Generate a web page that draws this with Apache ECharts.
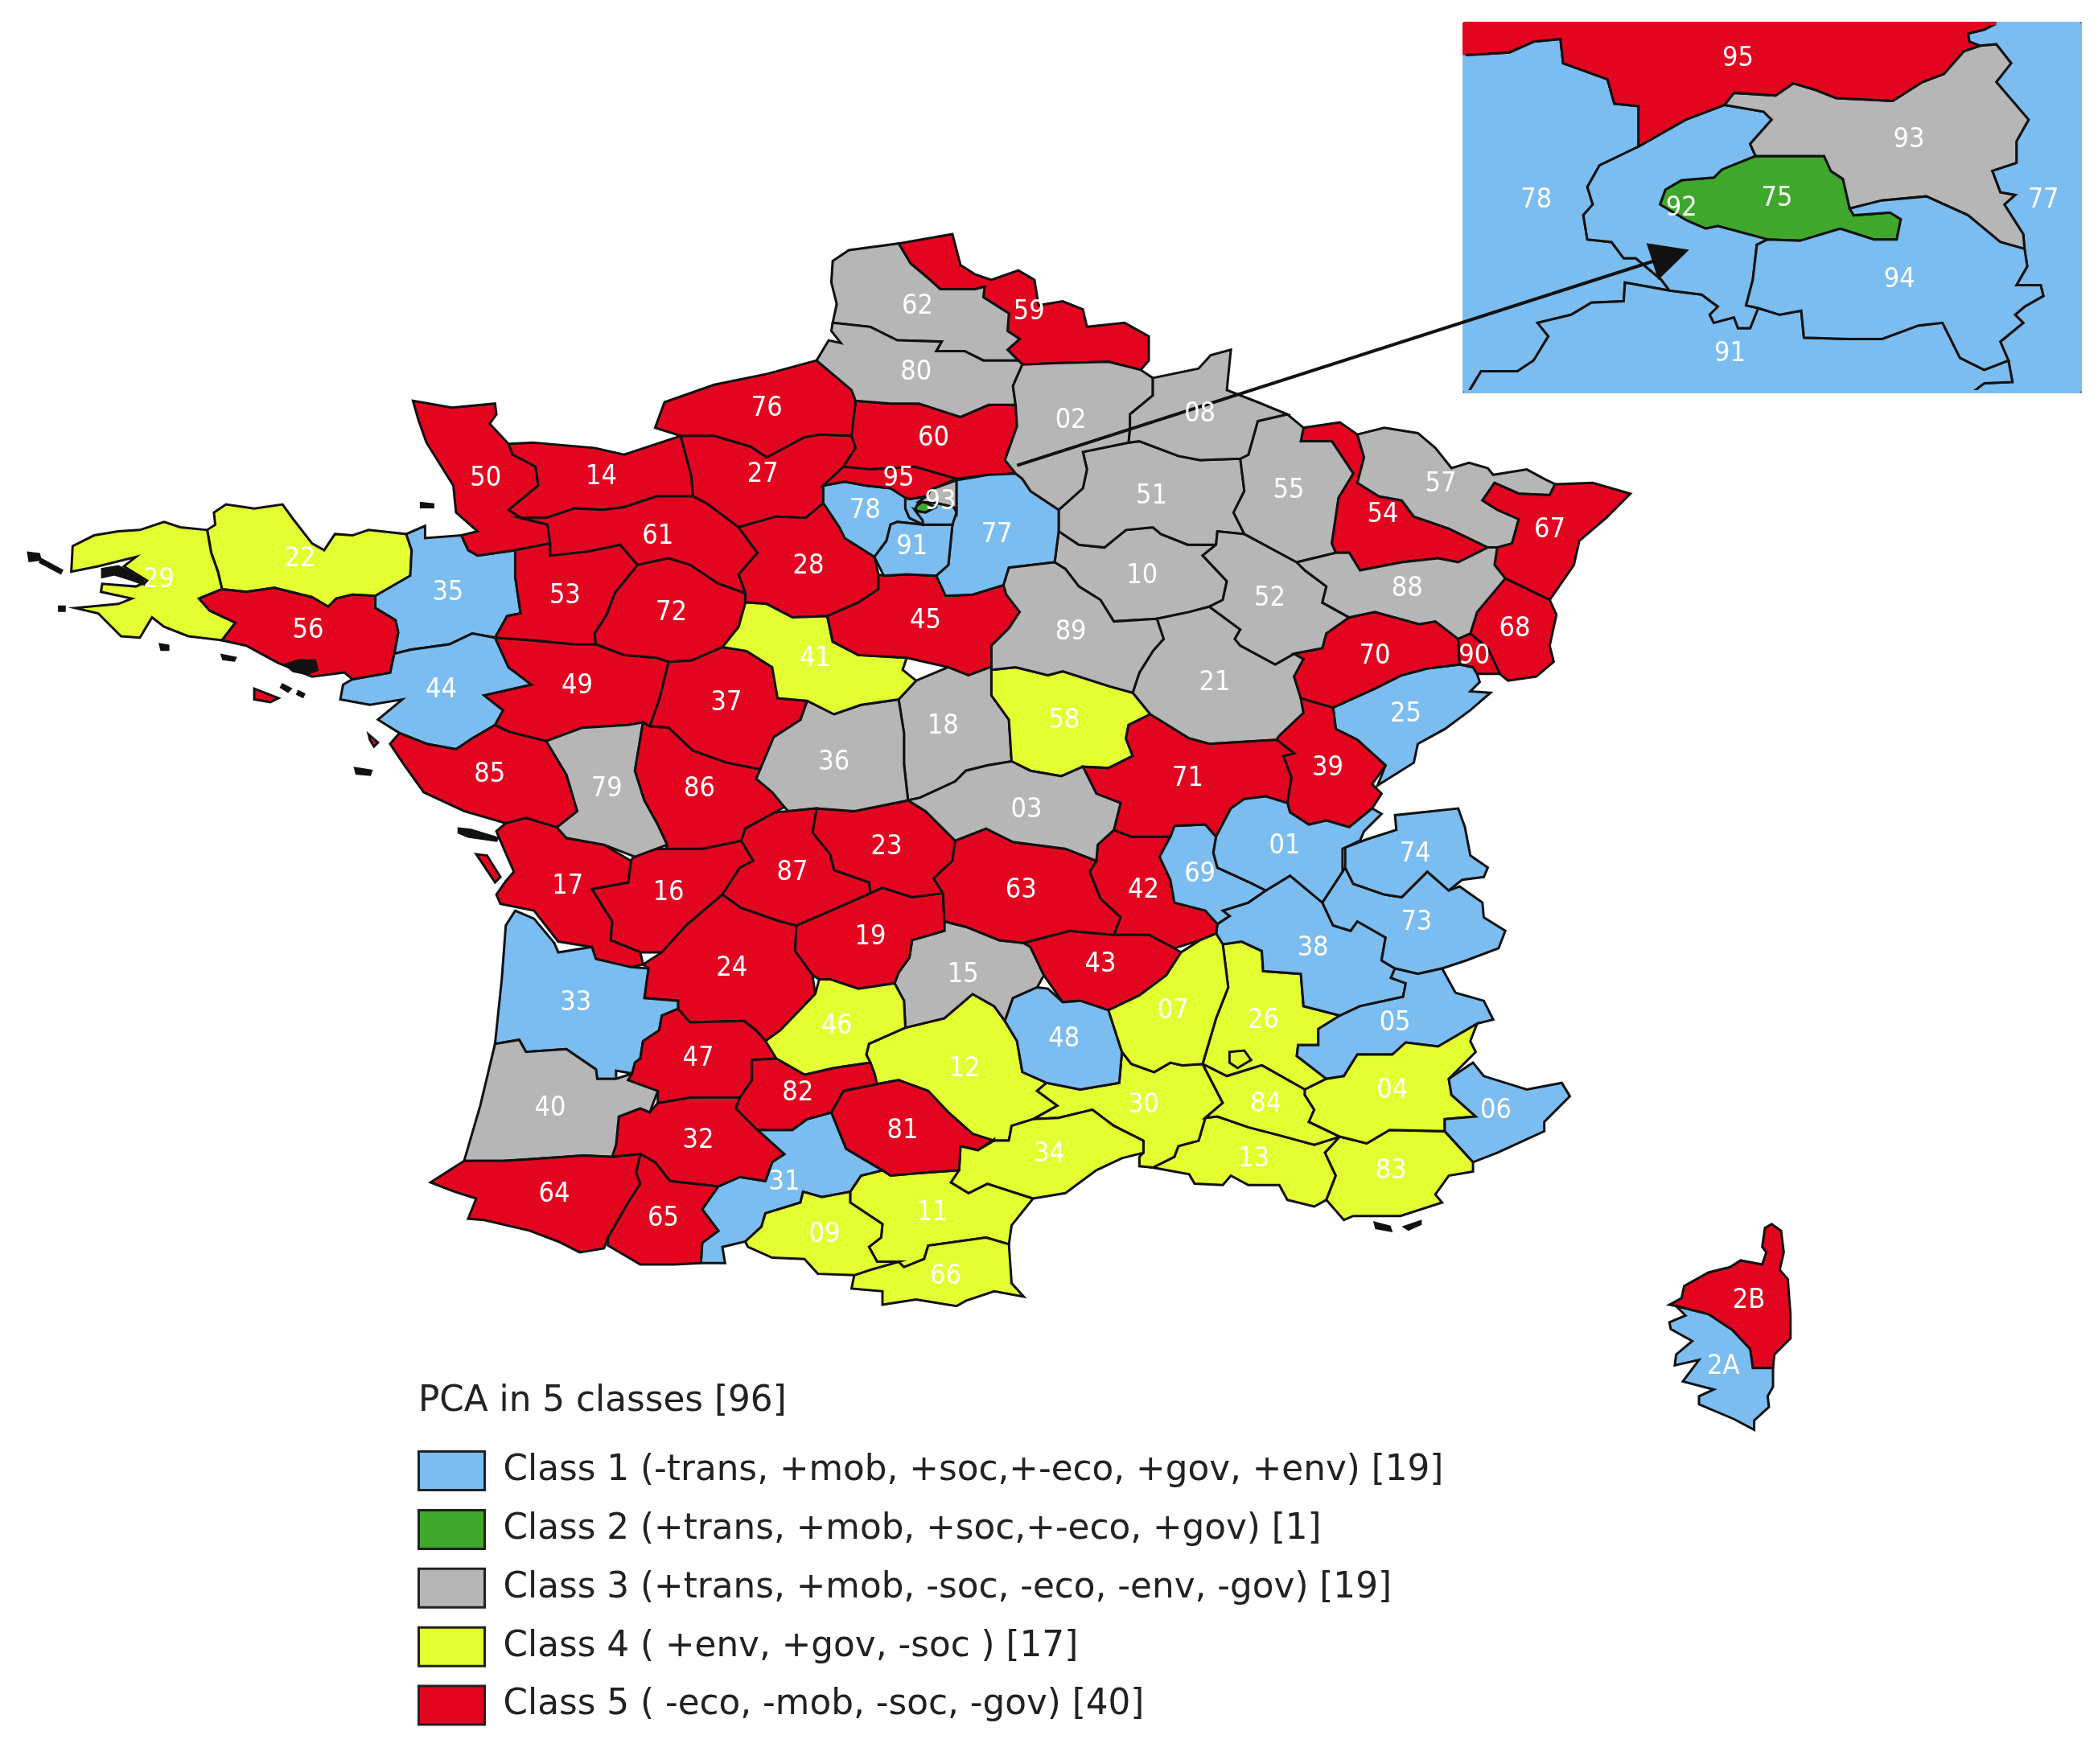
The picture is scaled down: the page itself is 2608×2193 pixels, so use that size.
<!DOCTYPE html>
<html>
<head>
<meta charset="utf-8">
<title>PCA in 5 classes</title>
<script src="https://cdn.jsdelivr.net/npm/echarts@6/dist/echarts.min.js"></script>
<style>
    html, body { margin: 0; padding: 0; background: #fff; }
    #chart { width: 2608px; height: 2193px; }
</style>
</head>
<body>
<div id="chart"></div>
<script>
// legend
const legendTitle = 'PCA in 5 classes [96]';
const classNames = [
    'Class 1 (-trans, +mob, +soc,+-eco, +gov, +env) [19]',
    'Class 2 (+trans, +mob, +soc,+-eco, +gov) [1]',
    'Class 3 (+trans, +mob, -soc, -eco, -env, -gov) [19]',
    'Class 4 ( +env, +gov, -soc ) [17]',
    'Class 5 ( -eco, -mob, -soc, -gov) [40]'
];
const classColors = ['#7bbdf0', '#3fa82c', '#b6b6b6', '#e3ff32', '#e30520'];

// departments per class
const class1Depts = ['78', '91', '77', '35', '44', '33', '25', '01', '69', '74', '73', '38', '05', '06', '48', '31', '2A', '92', '94'];
const class2Depts = ['75'];
const class3Depts = ['62', '80', '02', '08', '51', '55', '57', '88', '10', '52', '89', '21', '18', '36', '03', '79', '40', '15', '93'];
const class4Depts = ['29', '22', '41', '58', '46', '12', '07', '26', '04', '84', '30', '34', '13', '83', '11', '09', '66'];
const class5Depts = ['95', '60', '76', '27', '14', '50', '61', '28', '72', '53', '56', '49', '37', '85', '86', '17', '16', '87', '23', '19',
    '24', '47', '82', '32', '64', '65', '81', '63', '42', '43', '71', '39', '70', '90', '68', '67', '54', '59', '45', '2B'];
const classDepts = [class1Depts, class2Depts, class3Depts, class4Depts, class5Depts];

// departments repeated in the Paris inset
const insetDepts = ['95', '93', '78', '75', '92', '77', '94', '91'];

// hand traced outlines, x,y in map units with y going down
const mapWidth = 1559.6;
const mapHeight = 1311.4;
const deptOutlines = {
    '29': ['154,394 134,392 122,388 104,394 88,395 70,398 54,406 53,425 73,421 101,414 92,421 110,432 101,436 76,434 75,440 98,445 88,449 56,452 73,456 90,473 104,474 113,459 122,466 140,473 165,476 175,463 156,454 148,445 165,438 162,425 157,411'],
    '22': ['154,394 157,411 162,425 165,438 183,440 204,437 232,444 244,451 250,445 262,442 279,443 305,428 306,409 302,397 274,394 262,398 249,397 241,409 232,404 218,386 210,375 189,378 168,375 159,381 160,390'],
    '56': ['165,438 183,440 204,437 232,444 244,451 250,445 262,442 279,443 279,452 294,461 296,470 293,486 290,500 262,505 256,500 232,503 207,493 183,480 165,476 175,463 156,454 148,445',
        '189,512 207,519 201,522 189,520'],
    '35': ['316,391 316,400 343,398 348,409 355,413 383,409 383,429 387,456 377,458 368,474 351,471 334,479 305,483 293,486 296,470 294,461 279,452 279,443 305,428 306,409 302,397'],
    '44': ['293,486 305,483 334,479 351,471 368,474 378,496 395,509 360,517 374,528 368,539 351,549 339,557 317,553 297,545 281,535 299,520 275,524 253,520 255,509 262,505 290,500'],
    '50': ['307,298 336,303 368,300 369,308 364,315 378,330 381,338 398,347 400,361 378,379 387,385 407,390 409,404 383,409 355,413 348,409 343,398 355,395 339,381 337,361 317,329 311,312'],
    '14': ['378,330 396,329 442,333 464,338 488,330 506,324 514,354 515,369 488,369 464,377 448,379 427,378 406,385 387,385 378,379 400,361 398,347 381,338'],
    '61': ['407,390 387,385 406,385 427,378 448,379 464,377 488,369 515,369 525,374 549,392 563,411 549,427 554,441 534,434 513,420 497,415 474,420 461,405 437,410 409,413 409,404'],
    '53': ['383,409 409,404 409,413 437,410 461,405 474,420 457,441 451,457 442,471 443,479 427,479 396,476 368,474 377,458 387,456 383,429'],
    '72': ['474,420 497,415 513,420 534,434 554,441 554,448 549,466 537,481 514,491 497,492 488,489 464,487 443,479 442,471 451,457 457,441'],
    '76': ['487,318 494,299 531,286 570,278 607,268 633,290 636,298 633,324 610,323 598,325 570,340 558,332 531,324 506,324'],
    '27': ['506,324 531,324 558,332 570,340 598,325 610,323 633,324 636,333 627,347 612,361 612,374 599,385 577,384 549,392 525,374 515,369 514,354'],
    '28': ['549,392 577,384 599,385 612,374 624,392 628,400 650,414 653,427 653,438 638,448 615,458 589,459 570,449 554,448 554,441 549,427 563,411'],
    '78': ['612,361 628,358 644,361 662,363 673,370 673,378 676,385 686,390 667,388 662,390 659,402 650,414 628,400 624,392 612,374'],
    '95': ['627,347 647,349 680,347 711,356 692,364 689,369 676,371 673,370 662,363 644,361 628,358 612,361'],
    '92': ['676,371 689,369 683,373 680,379 686,387 686,390 676,385 673,378 673,370'],
    '93': ['689,369 692,364 711,357 711,381 709,377 696,374 683,373'],
    '75': ['680,377 686,373 696,377 688,381 682,380'],
    '94': ['688,381 696,377 696,374 709,377 711,381 708,390 686,390 686,387 680,379 682,380'],
    '91': ['667,388 686,390 708,390 705,420 696,428 674,427 657,428 650,414 659,402 662,390'],
    '60': ['636,298 662,300 683,300 714,310 735,301 755,301 756,317 747,342 755,352 735,353 711,356 680,347 647,349 627,347 636,333 633,324'],
    '77': ['711,357 735,353 755,352 760,356 766,365 787,379 787,395 784,418 750,422 746,435 723,442 703,443 696,428 705,420 708,390 711,381'],
    '62': ['619,194 631,186 668,181 677,196 689,206 699,215 725,215 732,213 731,221 750,233 749,246 758,252 749,260 757,268 731,268 717,261 696,261 700,254 667,253 647,243 619,240 622,226 618,210'],
    '59': ['668,181 708,174 714,197 725,204 737,208 757,201 769,208 772,227 790,224 805,230 808,243 836,240 854,250 854,268 848,275 824,269 784,270 760,271 757,268 749,260 758,252 749,246 750,233 731,221 732,213 725,215 699,215 689,206 677,196'],
    '80': ['619,240 647,243 667,253 700,254 696,261 717,261 731,268 757,268 760,271 753,287 755,301 735,301 714,310 683,300 662,300 636,298 633,290 607,268 616,253 625,255 618,246'],
    '02': ['760,271 784,270 824,269 848,275 857,281 857,294 840,308 840,319 839,329 805,336 808,349 805,363 787,379 766,365 760,356 755,352 747,342 756,317 755,301 753,287'],
    '08': ['857,281 891,274 900,264 915,260 912,290 935,299 957,308 935,313 928,338 922,341 892,342 876,339 847,328 839,329 840,319 840,308 857,294'],
    '51': ['805,336 839,329 847,328 876,339 892,342 922,341 925,365 917,381 925,397 905,395 904,405 883,405 863,397 857,392 837,394 821,407 802,405 787,395 787,379 805,363 808,349'],
    '55': ['935,313 957,308 969,318 967,328 990,328 1006,352 995,370 990,404 993,411 964,418 925,397 917,381 925,365 922,341 928,338'],
    '54': ['969,318 996,314 1009,323 1014,340 1009,359 1025,369 1042,372 1051,384 1077,393 1106,407 1084,418 1069,415 1042,418 1011,424 1003,411 993,411 990,404 995,370 1006,352 990,328 967,328'],
    '57': ['1009,323 1029,318 1054,322 1067,333 1079,348 1092,344 1106,348 1110,353 1135,349 1148,356 1156,360 1152,368 1129,367 1111,359 1102,372 1113,379 1129,386 1124,404 1113,407 1106,407 1077,393 1051,384 1042,372 1025,369 1009,359 1014,340'],
    '67': ['1111,359 1129,367 1152,368 1156,360 1184,359 1212,367 1194,385 1174,402 1170,420 1152,446 1119,430 1111,420 1113,407 1124,404 1129,386 1113,379 1102,372'],
    '68': ['1119,430 1152,446 1157,457 1152,480 1155,492 1142,503 1121,506 1115,501 1106,482 1093,471 1098,455 1114,436'],
    '90': ['1084,475 1093,471 1106,482 1115,501 1098,501 1095,496 1085,494'],
    '88': ['964,418 993,411 1003,411 1011,424 1042,418 1069,415 1084,418 1106,407 1113,407 1111,420 1119,430 1114,436 1098,455 1093,471 1084,475 1067,462 1055,464 1022,455 1003,459 983,448 986,436 970,424'],
    '70': ['1003,459 1022,455 1055,464 1067,462 1084,475 1085,494 1061,497 1042,502 1022,512 991,526 977,522 967,519 962,503 969,490 962,486 983,482 986,471'],
    '52': ['925,397 964,418 970,424 986,436 983,448 1003,459 986,471 983,482 962,486 948,494 922,480 918,475 922,468 899,451 909,446 912,432 894,413 904,405 905,395'],
    '10': ['787,395 802,405 821,407 837,394 857,392 863,397 883,405 904,405 894,413 912,432 909,446 899,451 884,455 860,460 828,462 818,446 802,436 792,423 784,418'],
    '89': ['750,422 784,418 792,423 802,436 818,446 828,462 860,460 865,475 857,484 847,500 842,515 824,510 790,499 779,502 755,496 737,498 737,480 750,467 758,455 748,442 746,435'],
    '45': ['615,458 638,448 653,438 653,427 657,428 674,427 696,428 703,443 723,442 746,435 748,442 758,455 750,467 737,480 741,494 720,502 705,496 674,489 638,487 619,477'],
    '41': ['557,448 570,449 589,459 615,458 619,477 638,487 674,489 671,498 681,506 668,520 640,524 620,531 600,521 578,519 574,496 555,484 537,481 549,466 554,448'],
    '37': ['497,492 514,491 537,481 555,484 574,496 578,519 600,521 595,535 575,548 565,572 540,567 515,558 497,541 483,540 490,520'],
    '49': ['368,474 396,476 427,479 443,479 464,487 488,489 497,492 490,520 483,540 478,537 467,539 433,541 406,551 378,544 368,539 374,528 360,517 395,509 378,496'],
    '79': ['406,551 433,541 467,539 478,537 472,573 479,595 489,613 496,628 472,637 449,628 421,623 414,615 429,603 421,576'],
    '85': ['290,553 297,545 317,553 339,557 351,549 368,539 378,544 406,551 421,576 429,603 414,615 391,608 376,612 345,603 315,589 300,568',
        '274,546 281,552 278,555 275,550'],
    '17': ['376,612 391,608 414,615 421,623 449,628 469,640 467,656 440,661 455,685 454,699 476,708 478,717 469,719 443,713 440,704 415,700 397,677 372,672 369,665 376,655 382,648 375,632 369,618',
        '354,635 362,636 372,652 368,656'],
    '33': ['383,677 397,683 412,701 415,708 440,704 443,713 469,719 482,720 479,742 504,744 504,750 492,755 490,766 478,774 476,787 472,790 470,798 458,796 458,802 444,802 443,795 421,780 391,782 386,773 368,776 373,728 376,688'],
    '40': ['368,776 386,773 391,782 421,780 443,795 444,802 458,802 470,798 467,803 489,811 483,827 476,824 460,830 458,851 455,860 434,859 391,862 374,863 345,863 357,822'],
    '47': ['492,755 504,750 513,760 553,759 562,766 569,774 577,787 559,788 559,803 550,816 547,816 513,816 489,820 489,811 467,803 470,798 472,790 476,787 478,774 490,766'],
    '24': ['537,665 551,675 580,685 592,688 591,707 604,725 606,739 580,766 569,774 562,766 553,759 513,760 504,750 504,744 479,742 482,720 478,717 492,708 510,688'],
    '16': ['469,640 474,632 495,631 522,631 551,625 560,640 550,645 537,665 510,688 492,708 476,708 454,699 455,685 440,661 467,656'],
    '86': ['478,537 483,540 497,541 515,558 540,567 565,572 562,579 574,589 583,600 576,604 554,616 551,625 522,631 495,631 496,628 489,613 479,595 472,573'],
    '36': ['565,572 575,548 595,535 600,521 620,531 640,524 668,520 672,545 672,568 675,595 635,603 607,601 586,603 583,600 574,589 562,579'],
    '18': ['668,520 681,506 705,496 720,502 741,494 737,498 737,517 750,535 752,566 734,569 718,573 710,581 684,593 675,595 672,568 672,545'],
    '58': ['737,498 755,496 779,502 790,499 824,510 842,515 855,531 839,539 837,549 842,562 824,571 805,570 789,577 766,573 752,566 750,535 737,517'],
    '21': ['860,460 884,455 899,451 922,468 918,475 922,480 948,494 962,486 969,490 962,503 967,519 969,530 951,547 949,550 899,553 884,549 855,531 842,515 847,500 857,484 865,475'],
    '71': ['855,531 884,549 899,553 949,550 962,560 954,562 960,578 957,597 941,592 925,594 915,601 904,622 896,613 873,614 870,622 841,622 828,617 833,597 815,590 805,570 824,571 842,562 837,549 839,539'],
    '39': ['977,522 991,526 993,542 1009,550 1030,569 1020,583 1027,590 1020,601 1003,615 986,610 973,613 959,604 957,597 960,578 954,562 962,560 949,550 951,547 969,530 967,519'],
    '25': ['991,526 1022,512 1042,502 1061,497 1085,494 1095,496 1098,501 1100,507 1093,514 1108,515 1093,528 1074,542 1054,553 1051,567 1024,584 1030,569 1009,550 993,542'],
    '01': ['915,601 925,594 941,592 957,597 959,604 973,613 986,610 1003,615 1020,601 1027,605 1014,618 1011,625 998,631 998,648 983,671 959,651 941,662 931,657 905,645 902,634 904,622'],
    '69': ['873,614 896,613 904,622 902,634 905,645 931,657 941,662 928,671 909,677 914,681 905,687 896,677 873,671 870,654 862,637 870,622'],
    '74': ['1000,630 1016,624 1038,617 1037,606 1084,601 1089,615 1093,636 1106,645 1103,652 1087,654 1077,662 1061,648 1042,667 1029,665 1006,657 1000,645'],
    '73': ['1000,645 1006,657 1029,665 1042,667 1061,648 1077,662 1085,659 1102,671 1103,682 1119,692 1114,705 1090,714 1072,720 1054,724 1037,720 1027,714 1030,697 1009,685 1004,692 991,688 983,671 998,648'],
    '38': ['941,662 959,651 983,671 991,688 1004,692 1009,685 1030,697 1027,714 1037,720 1034,727 1045,731 1043,741 1011,748 996,755 969,748 967,724 939,722 938,707 923,700 909,702 904,694 905,687 914,681 909,677 928,671'],
    '42': ['828,617 841,622 870,622 862,637 870,654 873,671 896,677 905,687 904,694 892,699 873,705 854,695 828,695 833,682 818,668 810,648 815,640 816,628'],
    '43': ['761,701 795,692 828,695 854,695 873,705 878,708 867,725 847,740 824,751 803,744 790,745 776,725 766,704'],
    '63': ['733,616 753,626 792,631 815,640 810,648 818,668 833,682 828,695 795,692 761,701 743,699 718,689 702,685 701,664 694,653 708,640 710,625'],
    '03': ['675,595 684,593 710,581 718,573 734,569 752,566 766,573 789,577 805,570 815,590 833,597 828,617 816,628 815,640 792,631 753,626 733,616 710,625 688,603'],
    '23': ['604,619 607,601 635,603 675,595 688,603 710,625 708,640 694,653 701,664 678,667 656,660 647,664 646,656 620,647 617,635'],
    '87': ['586,603 607,601 604,619 617,635 620,647 646,656 647,664 620,676 592,688 580,685 551,675 537,665 550,645 560,640 551,625 554,616 576,604'],
    '19': ['647,664 656,660 678,667 701,664 702,685 702,692 678,699 676,712 668,723 665,731 638,735 617,728 609,728 604,725 591,707 592,688 620,676'],
    '15': ['702,692 702,685 718,689 743,699 761,701 766,704 776,725 771,734 753,742 747,759 739,748 723,739 702,757 673,764 672,744 665,731 668,723 676,712 678,699'],
    '46': ['606,739 609,728 617,728 638,735 665,731 672,744 673,764 646,776 644,784 647,790 620,794 598,799 577,787 569,774 580,766'],
    '12': ['646,776 673,764 702,757 723,739 739,748 747,759 756,774 760,797 778,805 771,811 786,822 768,832 752,837 750,848 739,848 723,843 705,827 690,811 668,803 652,806 650,798 647,790 644,784'],
    '81': ['652,806 668,803 690,811 705,827 723,843 739,848 739,847 727,855 714,852 713,870 684,872 662,874 656,870 629,854 618,827 627,811'],
    '82': ['559,788 577,787 598,799 620,794 647,790 650,798 652,806 627,811 618,827 600,832 589,840 563,840 547,824 550,816 559,803'],
    '32': ['489,820 513,816 547,816 550,816 547,824 563,840 583,858 574,864 569,878 550,875 534,882 498,878 487,864 476,858 455,860 458,851 460,830 476,824 483,827'],
    '64': ['320,879 345,863 374,863 391,862 434,859 455,860 476,858 473,872 476,880 467,894 452,920 449,928 431,931 415,923 394,915 360,907 348,906 354,891 338,886'],
    '65': ['476,858 487,864 498,878 534,882 522,899 534,915 522,924 521,939 501,940 476,940 452,926 452,920 467,894 476,880 473,872'],
    '31': ['583,858 563,840 589,840 600,832 618,827 629,854 656,870 640,874 632,886 611,890 597,886 595,894 569,902 566,912 554,923 537,927 539,939 521,939 522,924 534,915 522,899 534,882 550,875 569,878 574,864'],
    '09': ['554,923 566,912 569,902 595,894 597,886 611,890 632,886 632,894 656,910 655,920 646,927 652,938 668,938 647,944 635,948 608,947 598,936 574,935 556,927'],
    '11': ['632,886 640,874 656,870 662,874 684,872 713,870 707,879 720,887 734,880 768,891 752,911 750,925 733,920 690,926 687,936 672,942 668,938 652,938 646,927 655,920 656,910 632,894'],
    '66': ['647,944 668,938 672,942 687,936 690,926 733,920 750,925 752,954 761,964 739,960 718,967 711,971 681,966 656,970 656,960 633,958 635,948'],
    '34': ['768,832 787,831 812,825 828,837 850,848 850,857 834,861 815,870 792,887 768,891 734,880 720,887 707,879 713,870 714,852 727,855 739,848 750,848 752,837'],
    '30': ['771,811 778,805 803,810 832,805 834,782 841,791 858,797 870,790 879,792 894,791 909,820 896,831 891,848 876,852 873,860 857,868 847,867 847,860 850,857 850,848 828,837 812,825 787,831 768,832 786,822'],
    '48': ['747,759 753,742 771,734 779,735 790,745 803,744 824,751 834,782 832,805 803,810 778,805 760,797 756,774'],
    '07': ['824,751 847,740 867,725 878,708 892,699 904,694 909,702 913,734 904,757 894,791 879,792 870,790 858,797 841,791 834,782'],
    '26': ['909,702 923,700 938,707 939,722 967,724 969,748 996,755 980,765 980,777 965,777 964,785 986,802 970,810 938,792 912,800 894,791 904,757 913,734'],
    '05': ['996,755 1011,748 1043,741 1045,731 1034,727 1037,720 1054,724 1072,720 1082,738 1103,744 1110,758 1098,761 1069,778 1045,775 1035,784 1009,784 999,800 986,802 964,785 965,777 980,777 980,765'],
    '04': ['1098,761 1093,774 1097,782 1077,802 1079,814 1097,830 1074,832 1074,841 1033,840 1016,850 996,845 973,834 977,825 970,814 970,810 986,802 999,800 1009,784 1035,784 1045,775 1069,778'],
    '84': ['894,791 912,800 938,792 970,810 970,814 977,825 973,834 996,845 977,851 951,844 928,838 905,830 896,831 909,820',
        '914,782 925,781 930,788 920,794 914,790'],
    '13': ['896,831 905,830 928,838 951,844 977,851 996,845 985,857 993,874 986,892 977,897 957,892 951,881 928,881 915,874 909,881 888,880 884,873 857,868 873,860 876,852 891,848'],
    '83': ['996,845 1016,850 1033,840 1074,841 1095,864 1095,871 1077,874 1067,888 1072,894 1041,904 1006,904 999,907 986,892 993,874 985,857'],
    '06': ['1095,790 1103,800 1135,810 1161,805 1167,815 1148,834 1148,841 1113,857 1095,864 1074,841 1074,832 1097,830 1079,814 1077,802'],
    '2B': ['1317,910 1324,915 1326,931 1323,944 1329,951 1331,977 1331,995 1319,1007 1318,1017 1303,1017 1301,1003 1288,989 1270,977 1246,971 1241,970 1250,965 1252,956 1270,946 1286,942 1294,937 1310,940 1313,931 1310,927 1312,913'],
    '2A': ['1246,971 1270,977 1288,989 1301,1003 1303,1017 1318,1017 1318,1031 1314,1038 1315,1046 1304,1056 1304,1063 1289,1055 1263,1044 1263,1038 1274,1033 1251,1027 1263,1011 1245,1015 1246,1007 1258,997 1242,988 1241,983 1253,978']
};
const insetOutlines = {
    '95': ['1088.5,17.4 1484,17.4 1475,22 1463,25 1464,31 1472,34 1460,38 1445,55 1429,61 1407,75 1387,74 1365,73 1350,67 1333,62 1320,71 1289,69 1282,78 1253,89 1218,109 1218,79 1200,77 1195,59 1162,47 1160,29 1140,31 1122,39 1088.5,41'],
    '93': ['1282,78 1289,69 1320,71 1333,62 1350,67 1365,73 1387,74 1407,75 1429,61 1445,55 1460,38 1472,34 1484,33 1495,47 1484,61 1508,89 1499,105 1499,121 1481,127 1487,143 1498,145 1490,152 1504,174 1505,185 1487,180 1463,160 1432,146 1399,149 1375,155 1370,133 1361,127 1356,116 1305,116 1301,107 1317,89 1311,83'],
    '78': ['1088.5,41 1122,39 1140,31 1160,29 1162,47 1195,59 1200,77 1218,79 1218,109 1189,123 1180,139 1184,152 1177,160 1180,178 1198,180 1207,192 1216,192 1235,208 1241,216 1208,210 1207,224 1183,225 1168,234 1143,240 1151,250 1140,268 1128,276 1101,276 1092,291 1088.5,291'],
    '92': ['1218,109 1253,89 1282,78 1311,83 1317,89 1301,107 1305,116 1280,126 1274,132 1250,134 1238,141 1234,152 1254,164 1268,170 1277,168 1314,178 1306,182 1303,208 1298,227 1307,229 1301,244 1292,244 1289,236 1274,240 1271,234 1277,228 1265,219 1241,216 1235,208 1216,192 1207,192 1198,180 1180,178 1177,160 1184,152 1180,139 1189,123'],
    '94': ['1314,178 1338,179 1368,170 1393,178 1410,178 1413,163 1405,158 1378,160 1375,155 1399,149 1432,146 1463,160 1487,180 1505,185 1507,198 1499,212 1517,212 1519,220 1505,228 1498,234 1504,240 1487,254 1493,268 1475,275 1457,266 1444,240 1426,242 1399,252 1375,252 1341,251 1339,231 1323,234 1307,229 1298,227 1303,208 1306,182'],
    '91': ['1092,291 1101,276 1128,276 1140,268 1151,250 1143,240 1168,234 1183,225 1207,224 1208,210 1241,216 1265,219 1277,228 1271,234 1274,240 1289,236 1292,244 1301,244 1307,229 1323,234 1339,231 1341,251 1375,252 1399,252 1426,242 1444,240 1457,266 1475,275 1493,268 1496,284 1475,285 1467,291'],
    '77': ['1484,17.4 1546.5,17.4 1546.5,291 1467,291 1475,285 1496,284 1493,268 1487,254 1504,240 1498,234 1505,228 1519,220 1517,212 1499,212 1507,198 1505,185 1504,174 1490,152 1498,145 1487,143 1481,127 1499,121 1499,105 1508,89 1484,61 1495,47 1484,33 1472,34 1464,31 1463,25 1475,22'],
    '75': ['1305,116 1356,116 1361,127 1370,133 1375,155 1378,160 1405,158 1413,163 1410,178 1393,178 1368,170 1338,179 1314,178 1277,168 1268,170 1254,164 1234,152 1238,141 1250,134 1274,132 1280,126']
};
// small black islands and inlets on the coast
const coastSpecks = [
    '21,411 29,412 30,416 22,417', '31,416 46,424 45,426 30,418', '44,451 48,451 48,454 44,454', '119,479 125,480 125,483 120,483',
    '76,423 88,421 105,430 109,435 98,431 85,427 76,429', '165,487 175,489 174,491 166,490', '210,509 216,512 214,514 209,511',
    '222,514 226,516 225,518 221,516', '212,494 222,491 234,491 236,498 228,501 218,499', '264,571 276,573 275,576 265,575',
    '341,616 350,617 370,623 369,625 348,622 341,619', '313,374 322,375 322,377 313,377', '1022,909 1033,912 1034,915 1023,913', '1044,912 1056,908 1056,910 1047,914'
];

// where each number sits
const deptLabelPoints = {
    '62': '682,228', '59': '765,232', '80': '681,277', '02': '796,313', '08': '892,308', '76': '570,304', '60': '694,326', '50': '361,356',
    '14': '447,355', '27': '567,353', '95': '668,356', '93': '699,373', '78': '643,380', '51': '856,369', '55': '958,365', '57': '1071,360',
    '54': '1028,383', '67': '1152,394', '61': '489,399', '91': '678,407', '77': '741,398', '10': '849,428', '52': '944,445', '88': '1046,438',
    '29': '118,431', '22': '223,416', '35': '333,441', '53': '420,443', '28': '601,421', '72': '499,456', '45': '688,462', '89': '796,470',
    '68': '1126,468', '70': '1022,488', '90': '1096,488', '56': '229,469', '41': '606,490', '21': '903,508', '44': '328,513', '49': '429,510',
    '25': '1045,531', '37': '540,523', '18': '701,540', '58': '791,536', '39': '987,571', '71': '883,579', '36': '620,567', '85': '364,576',
    '79': '451,587', '86': '520,587', '03': '763,602', '23': '659,630', '01': '955,629', '74': '1052,635', '87': '589,649', '69': '892,650',
    '17': '422,659', '16': '497,664', '63': '759,662', '42': '850,662', '73': '1053,686', '19': '647,697', '38': '976,705', '24': '544,720',
    '43': '818,717', '15': '716,725', '33': '428,746', '07': '872,752', '26': '939,759', '05': '1037,761', '46': '622,763', '48': '791,773',
    '47': '519,787', '12': '717,795', '04': '1035,811', '82': '593,813', '40': '409,824', '84': '941,821', '30': '850,822', '06': '1112,826',
    '81': '671,841', '32': '519,848', '34': '780,858', '13': '932,862', '83': '1034,871', '31': '583,879', '64': '412,888', '65': '493,906',
    '11': '693,902', '09': '613,918', '66': '703,949', '2B': '1300,967', '2A': '1281,1016'
};
const insetLabelPoints = {
    '95': '1292,44', '93': '1419,104', '78': '1142,149', '75': '1321,148', '92': '1250,155', '77': '1519,149', '94': '1412,208', '91': '1286,263'
};

// pointer from the Paris area up to the inset
const arrowPath = ['756,346', '1242,190'];
// the inset has no frame: these repaint its outer edge in the fill colours
const insetEdges = [
    { path: ['1088.5,17.4', '1484,17.4'], classIndex: 4 },
    { path: ['1088.5,17.4', '1088.5,41'], classIndex: 4 },
    { path: ['1088.5,41', '1088.5,291'], classIndex: 0 },
    { path: ['1088.5,291', '1546.5,291'], classIndex: 0 },
    { path: ['1546.5,291', '1546.5,17.4'], classIndex: 0 },
    { path: ['1546.5,17.4', '1484,17.4'], classIndex: 0 }
];

const labelFont = '"DejaVu Sans Condensed", "DejaVu Sans", sans-serif';
const legendFont = '"DejaVu Sans", sans-serif';

function toLngLat(pair) {
    const xy = pair.split(',').map(Number);
    return [xy[0], -xy[1]];
}

function toRing(text) {
    const ring = text.split(' ').map(toLngLat);
    ring.push(ring[0]);
    return ring;
}

function toFeature(name, rings) {
    return {
        type: 'Feature',
        properties: { name: name },
        geometry: { type: 'MultiPolygon', coordinates: rings.map(r => [toRing(r)]) }
    };
}

function buildGeoJson() {
    const features = [];
    Object.keys(deptOutlines).forEach(code => features.push(toFeature(code, deptOutlines[code])));
    Object.keys(insetOutlines).forEach(code => features.push(toFeature('inset' + code, insetOutlines[code])));
    features.push(toFeature('specks', coastSpecks));
    return { type: 'FeatureCollection', features: features };
}

function buildRegions() {
    const regions = [{ name: 'specks', itemStyle: { areaColor: '#111' } }];
    classDepts.forEach((codes, i) => {
        codes.forEach(code => {
            regions.push({ name: code, itemStyle: { areaColor: classColors[i] } });
            if (insetDepts.includes(code)) {
                regions.push({ name: 'inset' + code, itemStyle: { areaColor: classColors[i] } });
            }
        });
    });
    return regions;
}

function buildClassSeries(codes, i) {
    const data = [];
    codes.forEach(code => {
        if (deptLabelPoints[code]) {
            data.push({ name: code, value: toLngLat(deptLabelPoints[code]) });
        }
        if (insetLabelPoints[code]) {
            data.push({ name: code, value: toLngLat(insetLabelPoints[code]) });
        }
    });
    return {
        name: classNames[i],
        type: 'scatter',
        coordinateSystem: 'geo',
        geoIndex: 0,
        silent: true,
        symbolSize: 0,
        itemStyle: { color: classColors[i], opacity: 1 },
        label: {
            show: true,
            position: 'inside',
            formatter: '{b}',
            color: '#fff',
            fontFamily: labelFont,
            fontSize: 34
        },
        data: data
    };
}

echarts.registerMap('franceDepts', buildGeoJson());

const chart = echarts.init(document.getElementById('chart'));

chart.setOption({
    animation: false,
    backgroundColor: '#fff',
    title: {
        text: legendTitle,
        left: 520,
        top: 1721,
        padding: 0,
        textStyle: { fontFamily: legendFont, fontSize: 43.7, fontWeight: 'normal', color: '#222' }
    },
    legend: {
        orient: 'vertical',
        left: 519,
        top: 1803,
        padding: 0,
        icon: 'rect',
        itemWidth: 82,
        itemHeight: 48,
        itemGap: 21.9,
        selectedMode: false,
        itemStyle: { borderColor: '#222', borderWidth: 3 },
        textStyle: { fontFamily: legendFont, fontSize: 43.7, lineHeight: 48, color: '#222', padding: [0, 0, 0, 18] },
        data: classNames
    },
    geo: {
        map: 'franceDepts',
        silent: true,
        roam: false,
        aspectScale: 1,
        boundingCoords: [[0, 0], [mapWidth, -mapHeight]],
        left: 0,
        top: 0,
        right: 0,
        bottom: 0,
        label: { show: false },
        itemStyle: { borderColor: '#111', borderWidth: 3, areaColor: '#fff' },
        regions: buildRegions()
    },
    series: classDepts.map(buildClassSeries).concat([{
        type: 'lines',
        coordinateSystem: 'geo',
        geoIndex: 0,
        silent: true,
        symbol: 'none',
        lineStyle: { width: 4, opacity: 1, curveness: 0 },
        data: insetEdges.map(e => ({
            coords: e.path.map(toLngLat),
            lineStyle: { color: classColors[e.classIndex] }
        }))
    }, {
        type: 'lines',
        coordinateSystem: 'geo',
        geoIndex: 0,
        silent: true,
        symbol: ['none', 'triangle'],
        symbolSize: 48,
        lineStyle: { color: '#111', width: 4, opacity: 1, curveness: 0 },
        data: [{ coords: arrowPath.map(toLngLat) }]
    }])
});
</script>
</body>
</html>
